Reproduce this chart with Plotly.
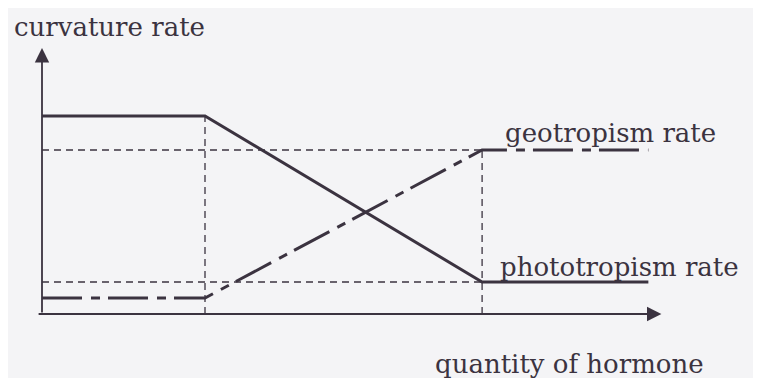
import plotly.graph_objects as go

# data (arbitrary units)
x_points = [0, 1, 2.7, 3.72]
phototropism = [9.9, 9.9, 1.6, 1.6]
geotropism = [0.8, 0.8, 8.2, 8.2]
x_break = [1, 2.7]
x_arrow_end = 3.8
y_arrow_end = 13.3

ink = "#3b3340"
bg = "#f4f4f6"
font_family = "DejaVu Serif"

fig = go.Figure()

# guide lines (thin dashed)
guide = dict(color=ink, width=1.3, dash="7px,5px")
fig.add_trace(go.Scatter(x=[0, x_break[1]], y=[geotropism[-1]] * 2, mode="lines", line=guide, hoverinfo="skip"))
fig.add_trace(go.Scatter(x=[0, x_break[1]], y=[phototropism[-1]] * 2, mode="lines", line=guide, hoverinfo="skip"))
fig.add_trace(go.Scatter(x=[x_break[0]] * 2, y=[0, phototropism[0]], mode="lines", line=guide, hoverinfo="skip"))
fig.add_trace(go.Scatter(x=[x_break[1]] * 2, y=[0, geotropism[-1]], mode="lines", line=guide, hoverinfo="skip"))

# curves
fig.add_trace(go.Scatter(x=x_points, y=phototropism, mode="lines",
                         line=dict(color=ink, width=3), name="phototropism rate"))
fig.add_trace(go.Scatter(x=x_points, y=geotropism, mode="lines",
                         line=dict(color=ink, width=3, dash="40px,9px,9px,8px"), name="geotropism rate"))

# axes with arrows
fig.add_annotation(x=x_arrow_end, y=0, ax=-0.03, ay=0, xref="x", yref="y", axref="x", ayref="y",
                   text="", showarrow=True, arrowhead=2, arrowsize=1.6, arrowwidth=1.8, arrowcolor=ink)
fig.add_annotation(x=0, y=y_arrow_end, ax=0, ay=0, xref="x", yref="y", axref="x", ayref="y",
                   text="", showarrow=True, arrowhead=2, arrowsize=1.6, arrowwidth=1.8, arrowcolor=ink)

# labels
tf = dict(family=font_family, size=26, color=ink)
fig.add_annotation(x=-0.184, y=14.35, text="curvature rate", showarrow=False, xanchor="left", yanchor="middle", font=tf)
fig.add_annotation(x=2.83, y=9.05, text="geotropism rate", showarrow=False, xanchor="left", yanchor="middle", font=tf)
fig.add_annotation(x=2.80, y=2.35, text="phototropism rate", showarrow=False, xanchor="left", yanchor="middle", font=tf)
fig.add_annotation(x=2.40, y=-2.5, text="quantity of hormone", showarrow=False, xanchor="left", yanchor="middle", font=tf)

fig.update_layout(
    width=761, height=378,
    margin=dict(l=0, r=0, t=0, b=0),
    paper_bgcolor=bg, plot_bgcolor=bg,
    showlegend=False,
    xaxis=dict(range=[-34 / 163, (761 - 34) / 163], visible=False, fixedrange=True),
    yaxis=dict(range=[-(378 - 306) / 20, 306 / 20], visible=False, fixedrange=True),
)

fig.write_html("out.html")
